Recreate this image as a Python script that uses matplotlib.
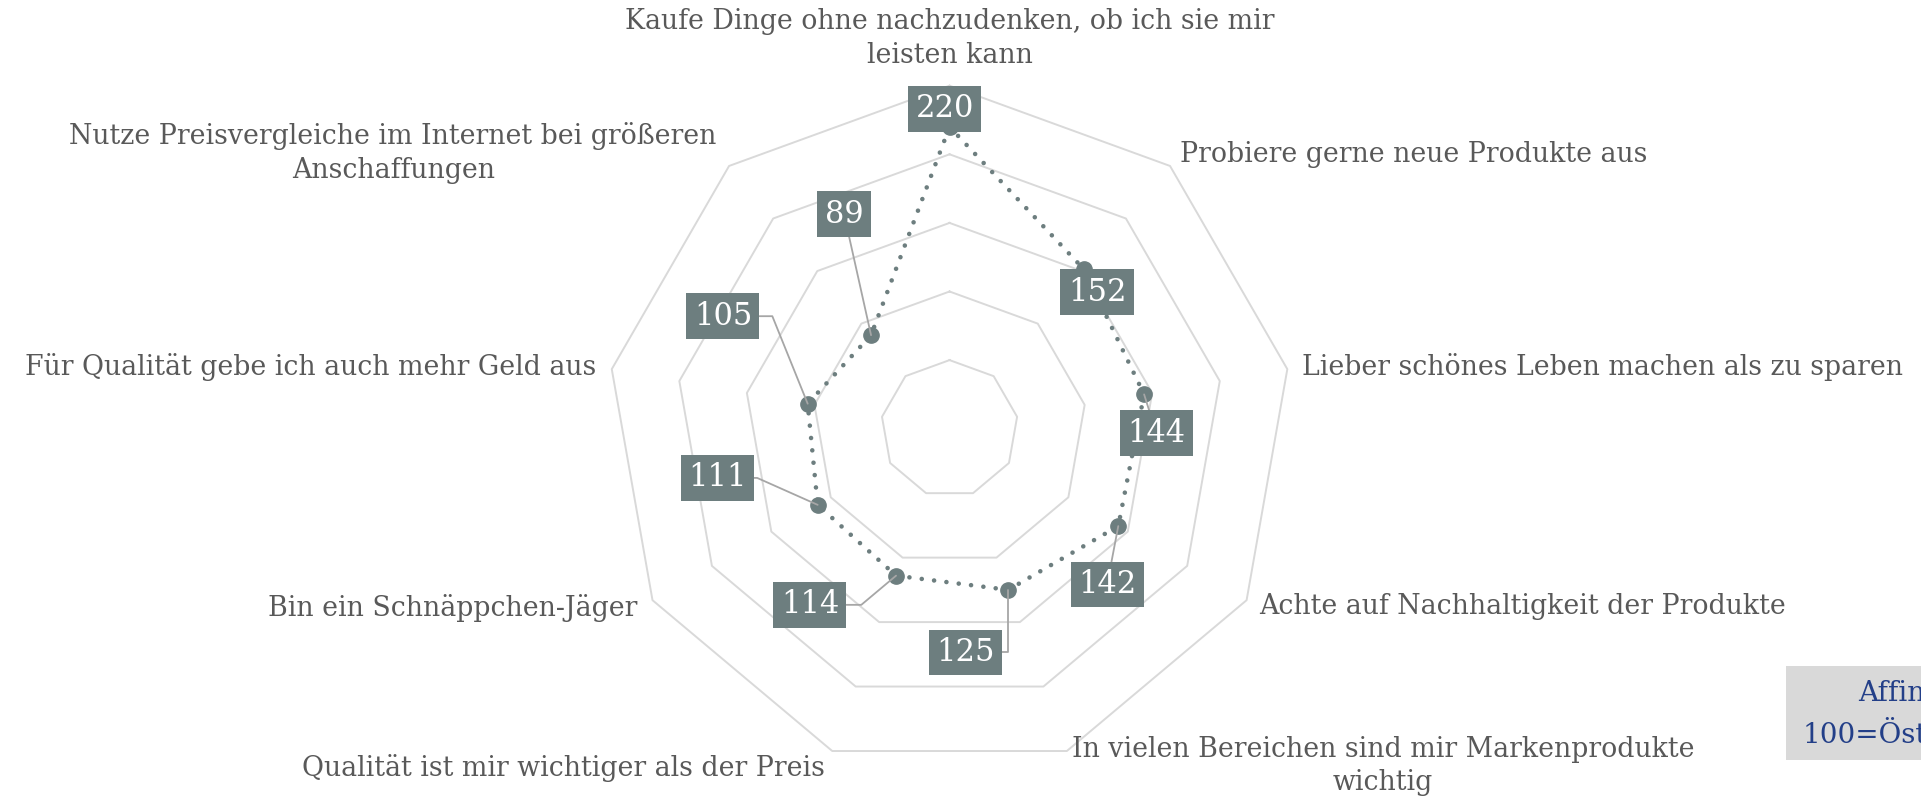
import numpy as np
import matplotlib.pyplot as plt
from matplotlib.patches import Rectangle

# ---------------- data ----------------
categories = [
    "Kaufe Dinge ohne nachzudenken, ob ich sie mir\nleisten kann",
    "Probiere gerne neue Produkte aus",
    "Lieber schönes Leben machen als zu sparen",
    "Achte auf Nachhaltigkeit der Produkte",
    "In vielen Bereichen sind mir Markenprodukte\nwichtig",
    "Qualität ist mir wichtiger als der Preis",
    "Bin ein Schnäppchen-Jäger",
    "Für Qualität gebe ich auch mehr Geld aus",
    "Nutze Preisvergleiche im Internet bei größeren\nAnschaffungen",
]
values = [220, 152, 144, 142, 125, 114, 111, 105, 89]
grid_levels = [50, 100, 150, 200, 250]
note_text = "Affinität\n100=Österreich"

# ---------------- styling / layout ----------------
SERIF = "DejaVu Serif"
LINE_C = "#6d7e7f"
GRID_C = "#d9d9d9"
TEXT_C = "#595959"
LEADER_C = "#a6a6a6"

# category label offsets (points) from outer vertex, and alignment
cat_offsets = [(0, 34), (7, 8.4), (10.6, 1.2), (9.3, -4.4), (3.5, -10.6),
               (-5.3, -12.3), (-11, -5.3), (-11.5, 1.2), (-8.8, 9.3)]
cat_ha = ["center", "left", "left", "left", "left",
          "right", "right", "right", "right"]

# value label offsets (points) and leader connection styles
val_offsets = [(-3.5, 13), (9.7, -16.8), (8.8, -28), (-8, -42), (-31, -45),
               (-62, -21), (-72, 19.4), (-61, 63), (-19.4, 87)]
val_conn = [None, None, "arc3,rad=0", "arc3,rad=0",
            "angle,angleA=0,angleB=90,rad=0",
            "angle,angleA=0,angleB=40,rad=0",
            "angle,angleA=0,angleB=-24,rad=0",
            "angle,angleA=0,angleB=-68,rad=0",
            "arc3,rad=0"]

fig = plt.figure(figsize=(19.21, 7.99), dpi=100)
fig.patch.set_facecolor("white")
ax = fig.add_axes([0.3086, 0.017, 0.3714, 0.8929], projection="polar")
ax.set_theta_zero_location("N")
ax.set_theta_direction(-1)
ax.set_ylim(0, 260)
ax.axis("off")

n = len(categories)
theta = np.arange(n) * 2 * np.pi / n
theta_c = np.append(theta, theta[0])

# polygon grid
for lev in grid_levels:
    ax.plot(theta_c, [lev] * (n + 1), color=GRID_C, lw=1.4, zorder=1)

# data line (dotted) and markers
vals_c = np.append(values, values[0])
ax.plot(theta_c, vals_c, color=LINE_C, lw=3.3, linestyle=(0, (0.01, 2.7)),
        dash_capstyle="round", zorder=3)
ax.plot(theta, values, linestyle="none", marker="o", markersize=11,
        color=LINE_C, zorder=4)

# category labels
for t, lab, off, ha in zip(theta, categories, cat_offsets, cat_ha):
    ax.annotate(lab, xy=(t, grid_levels[-1]), xytext=off,
                textcoords="offset points", ha=ha, va="center",
                multialignment="center", fontsize=19.3, color=TEXT_C,
                family=SERIF, linespacing=1.3, zorder=5)

# value labels
for t, v, off, conn in zip(theta, values, val_offsets, val_conn):
    kw = {}
    if conn is not None:
        kw["arrowprops"] = dict(arrowstyle="-", color=LEADER_C, lw=1.3,
                                shrinkA=0, shrinkB=0, connectionstyle=conn)
    ax.annotate(str(v), xy=(t, v), xytext=off, textcoords="offset points",
                ha="center", va="center", fontsize=22, color="white",
                family=SERIF, zorder=6,
                bbox=dict(boxstyle="square,pad=0.24", fc=LINE_C, ec="none"),
                **kw)

# note box bottom right (cut off at the right edge, as in the original)
fig.patches.append(Rectangle((0.9297, 0.0488), 0.2, 0.1176,
                             transform=fig.transFigure, fc="#d9d9d9",
                             ec="none", zorder=0))
fig.text(0.997, 0.106, note_text, ha="center", va="center",
         multialignment="center", fontsize=20, color="#233f88",
         family=SERIF, linespacing=1.7)

fig.savefig("out.png", dpi=100)
